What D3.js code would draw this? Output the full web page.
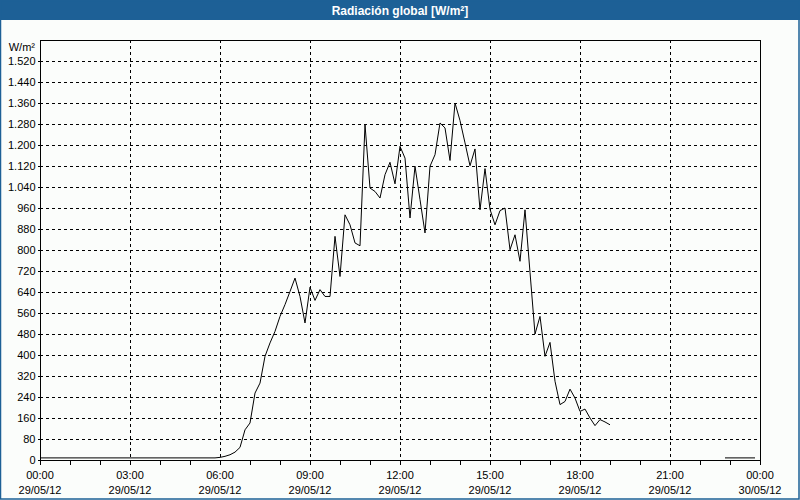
<!DOCTYPE html>
<html>
<head>
<meta charset="utf-8">
<script src="https://cdn.jsdelivr.net/npm/d3@7"></script>
<style>
  html, body { margin: 0; padding: 0; background: #fbfdfb; }
  svg { display: block; }
</style>
</head>
<body>
<svg id="chart" width="800" height="500"></svg>
<script>
// ---- Data (10-minute readings, 29/05/12 00:00 .. 23:50; null = no data) ----
const title = "Radiación global [W/m²]";
const unitLabel = "W/m²";
const startTime = "2012-05-29T00:00:00";
const endTime = "2012-05-30T00:00:00";
const stepMinutes = 10;
const yTicks = [0,80,160,240,320,400,480,560,640,720,800,880,960,1040,1120,1200,1280,1360,1440,1520];
const xTickHours = [0,3,6,9,12,15,18,21,24];
const xTickTimes = ["00:00","03:00","06:00","09:00","12:00","15:00","18:00","21:00","00:00"];
const xTickDates = ["29/05/12","29/05/12","29/05/12","29/05/12","29/05/12","29/05/12","29/05/12","29/05/12","30/05/12"];

// 00:00 - 05:50
const nightMorning = [8,8,8,8,8,8, 8,8,8,8,8,8, 8,8,8,8,8,8, 8,8,8,8,8,8, 8,8,8,8,8,8, 8,8,8,8,8,8];
// 06:00 - 19:00
const daytime = [
  10,14,20,30,48,115,        // 06:00-06:50
  141,255,293,395,446,490,   // 07:00-07:50
  547,592,642,693,623,522,   // 08:00-08:50
  658,608,649,623,623,852,   // 09:00-09:50
  699,934,896,827,816,1277,  // 10:00-10:50
  1036,1023,998,1087,1134,1052, // 11:00-11:50
  1195,1150,922,1119,992,865,   // 12:00-12:50
  1119,1163,1284,1265,1141,1360, // 13:00-13:50
  1293,1208,1121,1185,953,1110,  // 14:00-14:50
  955,896,950,960,801,858,       // 15:00-15:50
  757,953,715,480,547,395,       // 16:00-16:50
  448,300,211,223,270,236,       // 17:00-17:50
  185,194,160,131,154,145,       // 18:00-18:50
  134                            // 19:00
];
// 19:10 - 22:40 missing
const gap = [null,null,null,null,null,null,null,null,null,null,null,null,null,null,null,null,null,null,null,null,null,null];
// 22:50 - 23:50
const lateNight = [8,8,8,8,8,8,8];

const values = nightMorning.concat(daytime, gap, lateNight);

// ---- Layout ----
const svg = d3.select("#chart");
const W = 800, H = 500;
const m = {left: 40, top: 40, right: 760, bottom: 460};
const frameColor = "#1d6096";
const font = "'Liberation Sans', Arial, sans-serif";

const t0 = new Date(startTime), t1 = new Date(endTime);
const x = d3.scaleTime().domain([t0, t1]).range([m.left, m.right]);
const y = d3.scaleLinear().domain([0, 1600]).range([m.bottom, m.top]);

const data = values.map((v, i) => ({t: new Date(t0.getTime() + i * stepMinutes * 60000), v}));

// Background
svg.append("rect").attr("x",0).attr("y",0).attr("width",W).attr("height",H).attr("fill","#fbfdfb");

// Title bar
svg.append("rect").attr("x",0).attr("y",0).attr("width",W).attr("height",20).attr("fill",frameColor);
svg.append("text").attr("x",W/2).attr("y",15).attr("text-anchor","middle")
  .attr("font-family",font).attr("font-size","12px").attr("font-weight","bold")
  .attr("fill","#ffffff").text(title);

// Outer frame
svg.append("rect").attr("x",0.5).attr("y",0.5).attr("width",W-1.5).attr("height",H-1.5)
  .attr("fill","none").attr("stroke",frameColor).attr("stroke-width",1.5);

// Grid lines
const grid = svg.append("g").attr("shape-rendering","crispEdges");
grid.selectAll("line.h").data(yTicks.filter(d => d > 0)).enter().append("line")
  .attr("x1", m.left).attr("x2", m.right)
  .attr("y1", d => Math.round(y(d)) + 0.5).attr("y2", d => Math.round(y(d)) + 0.5)
  .attr("stroke","#000").attr("stroke-dasharray","3,3");
grid.selectAll("line.v").data(xTickHours.filter(h => h > 0 && h < 24)).enter().append("line")
  .attr("x1", h => Math.round(x(new Date(t0.getTime() + h*3600000))) + 0.5)
  .attr("x2", h => Math.round(x(new Date(t0.getTime() + h*3600000))) + 0.5)
  .attr("y1", m.top).attr("y2", m.bottom)
  .attr("stroke","#000").attr("stroke-dasharray","3,3");

// Plot frame
svg.append("rect").attr("x", m.left + 0.5).attr("y", m.top + 0.5)
  .attr("width", m.right - m.left).attr("height", m.bottom - m.top)
  .attr("fill","none").attr("stroke","#000").attr("shape-rendering","crispEdges");

// Y axis
const loc = d3.formatLocale({decimal: ",", thousands: ".", grouping: [3], currency: ["", ""]});
const fmt = loc.format(",d");
const yAxis = d3.axisLeft(y).tickValues(yTicks).tickFormat(fmt).tickSize(3).tickPadding(2);
const gy = svg.append("g").attr("transform", `translate(${m.left + 0.5},0)`).call(yAxis);
gy.select(".domain").remove();
gy.selectAll("text").attr("font-family", font).attr("font-size","11px").attr("fill","#000");
gy.selectAll("line").attr("stroke","#000").attr("shape-rendering","crispEdges");

svg.append("text").attr("x", 35).attr("y", 51).attr("text-anchor","end")
  .attr("font-family",font).attr("font-size","11px").attr("fill","#000").text(unitLabel);

// X axis (hourly ticks, labels every 3 hours)
const hourTicks = d3.range(0, 25).map(h => new Date(t0.getTime() + h*3600000));
const xAxis = d3.axisBottom(x).tickValues(hourTicks).tickFormat("").tickSize(4);
const gx = svg.append("g").attr("transform", `translate(0,${m.bottom + 0.5})`).call(xAxis);
gx.select(".domain").remove();
gx.selectAll("line").attr("stroke","#000").attr("shape-rendering","crispEdges");

const xl = svg.append("g");
xTickHours.forEach((h, i) => {
  const px = x(new Date(t0.getTime() + h*3600000));
  xl.append("text").attr("x", px).attr("y", 479).attr("text-anchor","middle")
    .attr("font-family",font).attr("font-size","11px").attr("fill","#000").text(xTickTimes[i]);
  xl.append("text").attr("x", px).attr("y", 494).attr("text-anchor","middle")
    .attr("font-family",font).attr("font-size","11px").attr("fill","#000").text(xTickDates[i]);
});

// Line
const line = d3.line().defined(d => d.v !== null).x(d => x(d.t)).y(d => y(d.v));
svg.append("path").datum(data).attr("d", line)
  .attr("fill","none").attr("stroke","#000").attr("stroke-width",1);
</script>
</body>
</html>
